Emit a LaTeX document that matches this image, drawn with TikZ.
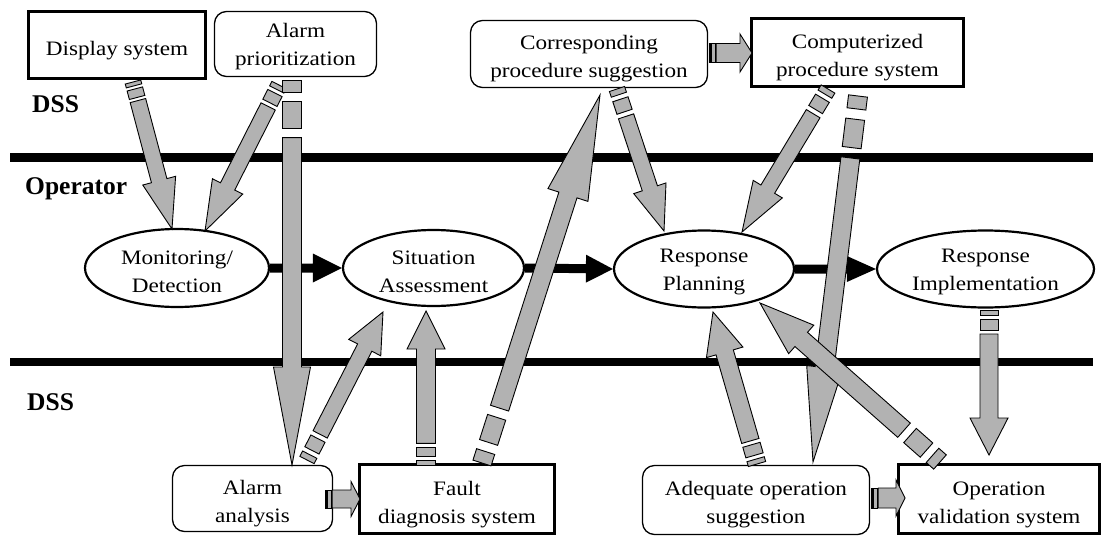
\documentclass[tikz,border=0pt]{standalone}
\usepackage{fontspec}
\setmainfont{Liberation Serif}[FakeStretch=1.13]
\newfontfamily\lblfont{Liberation Serif}
\usetikzlibrary{calc,shapes.geometric}

% block arrow polygon: #1 style, #2 from, #3 to, #4 half width, #5 half head width, #6 head length
\newcommand\apoly[6]{%
  \coordinate (ah) at ($(#3)!#6pt!(#2)$);
  \draw[#1] ($(#2)!#4pt!90:(#3)$) -- ($(ah)!#4pt!-90:(#2)$) -- ($(ah)!#5pt!-90:(#2)$)
    -- (#3) -- ($(ah)!#5pt!90:(#2)$) -- ($(ah)!#4pt!90:(#2)$) -- ($(#2)!#4pt!-90:(#3)$) -- cycle;
}
% stripe segment: #1 from, #2 to, #3 start dist, #4 end dist, #5 half width
\newcommand\gseg[5]{%
  \pgfmathsetmacro\sgA{#3}\pgfmathsetmacro\sgB{#4}%
  \coordinate (sa) at ($(#1)!\sgA pt!(#2)$);
  \coordinate (sb) at ($(#1)!\sgB pt!(#2)$);
  \draw[garr] ($(sa)!#5pt!90:(#2)$) -- ($(sb)!#5pt!90:(#2)$) -- ($(sb)!#5pt!-90:(#2)$) -- ($(sa)!#5pt!-90:(#2)$) -- cycle;
}
% striped gray arrow: #1 stripe unit, #2 from, #3 to, #4 half width, #5 half head width, #6 head length
\newcommand\garrow[6]{%
  \pgfmathsetmacro\gua{1.8*#1}\pgfmathsetmacro\gub{4*#1}\pgfmathsetmacro\guc{4.8*#1}%
  \gseg{#2}{#3}{0}{#1}{#4}
  \gseg{#2}{#3}{\gua}{\gub}{#4}
  \coordinate (gs) at ($(#2)!\guc pt!(#3)$);
  \apoly{garr}{gs}{#3}{#4}{#5}{#6}
}

\begin{document}
\begin{tikzpicture}[x=1pt,y=-1pt,
  every node/.style={font=\fontsize{20.5}{28}\selectfont, align=center, inner sep=0pt},
  tb/.style={text height=#1, text depth=0pt},
  sharpbox/.style={draw, line width=3.4pt, fill=white},
  roundbox/.style={draw, line width=1.3pt, rounded corners=12pt, fill=white},
  proc/.style={ellipse, draw, line width=2.2pt, fill=white},
  lbl/.style={font=\lblfont\bfseries\fontsize{25.5}{30}\selectfont, anchor=base west},
  band/.style={line width=8.5pt},
  garr/.style={fill=gray!60, draw=black, line width=0.9pt, line join=miter},
  barr/.style={fill=black, draw=none}]
\useasboundingbox (0,0) rectangle (1105,538);

% swim-lane separators
\coordinate (l1a) at (10,157.5); \coordinate (l1b) at (1093,157.5);
\coordinate (l2a) at (10,362);   \coordinate (l2b) at (1093,362);
\draw[band] (l1a) -- (l1b);
\draw[band] (l2a) -- (l2b);

% lane labels
\node[lbl] (dss1) at (32,112) {DSS};
\node[lbl] (op) at (25,194) {Operator};
\node[lbl] (dss2) at (27,410) {DSS};

% top boxes
\node[sharpbox, tb=20, minimum width=177, minimum height=67] (disp) at (117,45) {Display system};
\node[roundbox, tb=42, minimum width=162, minimum height=65] (alp) at (295.5,44) {Alarm\\prioritization};
\node[roundbox, tb=47, minimum width=237, minimum height=67] (corr) at (589,54) {Corresponding\\procedure suggestion};
\node[sharpbox, tb=48, minimum width=212, minimum height=68] (comp) at (857.5,52.5) {Computerized\\procedure system};

% bottom boxes
\node[roundbox, tb=47, minimum width=160, minimum height=66] (aa) at (252.5,498.5) {Alarm\\analysis};
\node[sharpbox, tb=48, minimum width=195, minimum height=69] (fd) at (457,499) {Fault\\diagnosis system};
\node[roundbox, tb=46, minimum width=227, minimum height=69] (aos) at (756,500) {Adequate operation\\suggestion};
\node[sharpbox, tb=48, minimum width=201, minimum height=69] (ovs) at (999,499) {Operation\\validation system};

% operator activities
\node[proc, tb=48, minimum width=184, minimum height=78] (mon) at (177,268) {Monitoring/\\Detection};
\node[proc, tb=49, minimum width=181, minimum height=76] (sit) at (433.5,268) {Situation\\Assessment};
\node[proc, tb=43, minimum width=180, minimum height=77] (rp) at (704,269) {Response\\Planning};
\node[proc, tb=43, minimum width=217, minimum height=77] (ri) at (985.5,269) {Response\\Implementation};

% black flow arrows
\apoly{barr}{mon.east}{sit.west}{4.5}{14.5}{29}
\apoly{barr}{sit.east}{rp.west}{4.5}{14}{27}
\apoly{barr}{rp.east}{ri.west}{4.5}{13}{29}

% gray arrow endpoints
\coordinate (c1a) at (133,82);  \coordinate (c1b) at (172,229);
\coordinate (c2a) at (279,85);  \coordinate (c2b) at (205,231);
\coordinate (c3a) at (292,80);  \coordinate (c3b) at (292,465);
\coordinate (c4a) at (307,460); \coordinate (c4b) at (383,312);
\coordinate (c5a) at (426,465); \coordinate (c5b) at (426,311);
\coordinate (c6a) at (482,463); \coordinate (c6b) at (600,95);
\coordinate (c7a) at (617,89);  \coordinate (c7b) at (664,231);
\coordinate (c8a) at (828,89);  \coordinate (c8b) at (742,232);
\coordinate (c9a) at (858,96);  \coordinate (c9b) at (813,462);
\coordinate (c10a) at (757,464); \coordinate (c10b) at (713,312);
\coordinate (c11a) at (940,462); \coordinate (c11b) at (760,303);
\coordinate (c12a) at (989,310); \coordinate (c12b) at (989,455);
\coordinate (c13a) at (709,53);  \coordinate (c13b) at (752,53);
\coordinate (c14a) at (325,499); \coordinate (c14b) at (360,499);
\coordinate (c15a) at (871,498); \coordinate (c15b) at (905,498);

% gray DSS arrows
\garrow{4}{c1a}{c1b}{8}{17}{50}
\garrow{5}{c2a}{c2b}{8}{17}{50}
\garrow{12}{c3a}{c3b}{9.5}{18.5}{98}
\garrow{6}{c4a}{c4b}{8}{18}{40}
\garrow{4.5}{c5a}{c5b}{9.5}{19}{38}
\garrow{12}{c6a}{c6b}{9.5}{21}{105}
\garrow{6}{c7a}{c7b}{8}{17}{45}
\garrow{6}{c8a}{c8b}{8}{17}{50}
\garrow{13}{c9a}{c9b}{9.5}{18}{95}
\garrow{5}{c10a}{c10b}{9}{19}{42}
\garrow{10}{c11a}{c11b}{9.5}{19}{55}
\garrow{5}{c12a}{c12b}{9}{19}{37}
\garrow{1.5}{c13a}{c13b}{9.5}{19}{12}
\garrow{1.5}{c14a}{c14b}{9}{17.5}{9}
\garrow{1.5}{c15a}{c15b}{10}{18}{9}
\end{tikzpicture}
\end{document}
